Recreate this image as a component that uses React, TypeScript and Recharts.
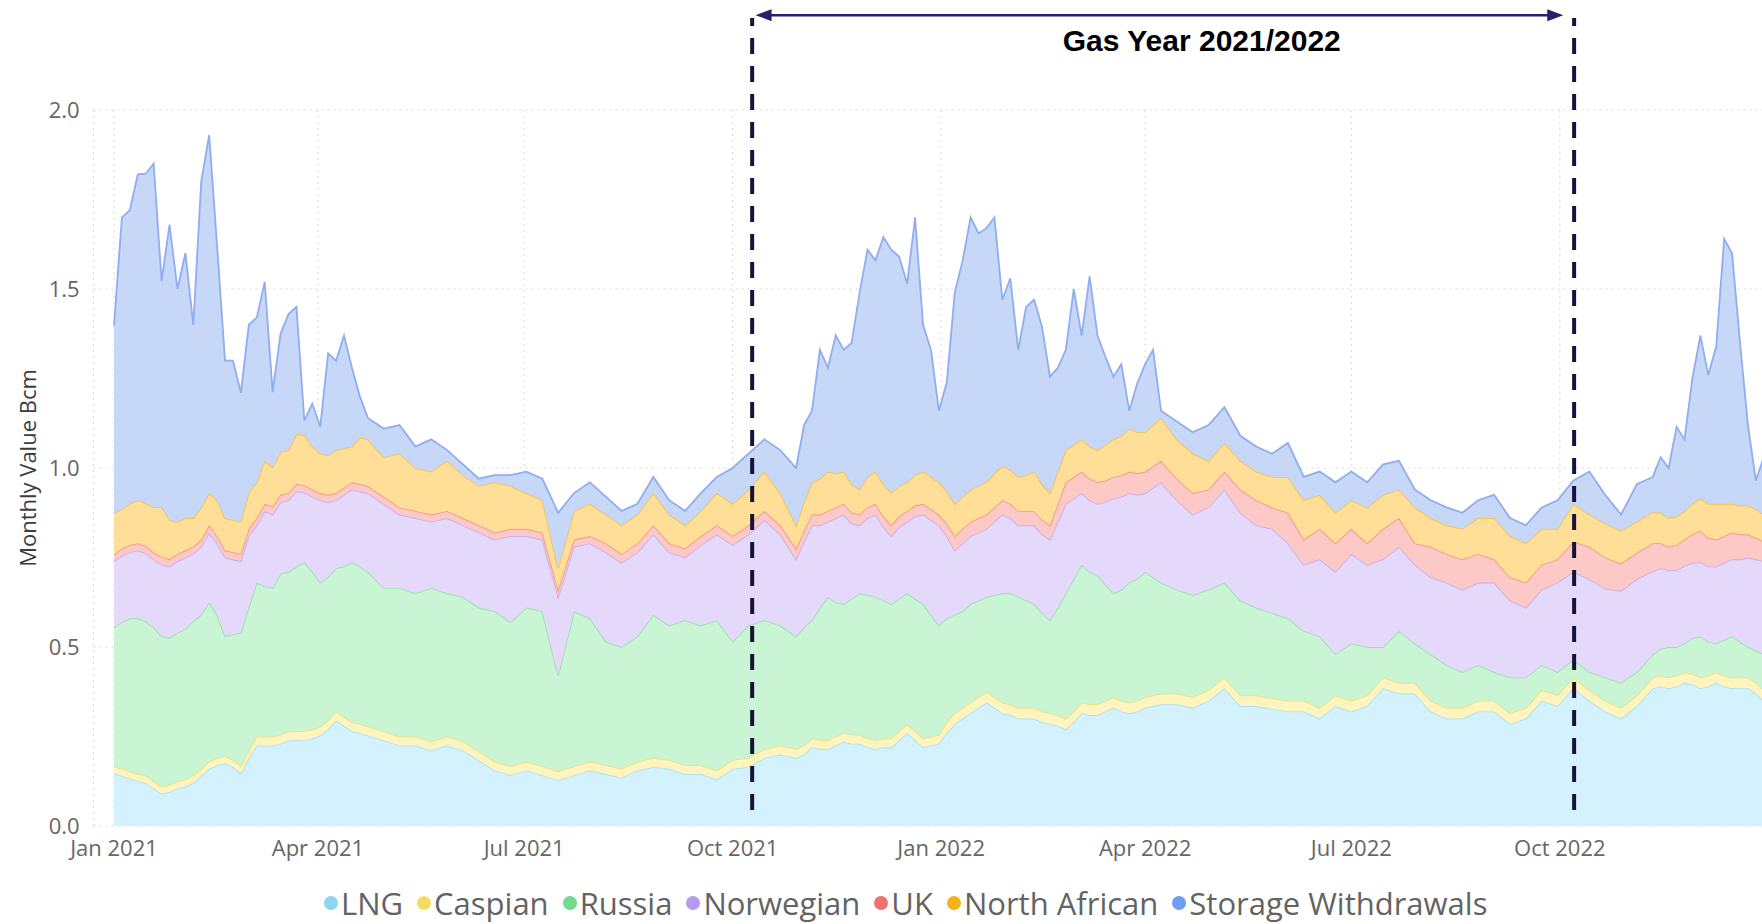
import React from "react"
import {
  AreaChart,
  Area,
  XAxis,
  YAxis,
  CartesianGrid,
  Legend,
  ReferenceLine,
  ReferenceDot,
} from "recharts"

// days since 1 Jan 2021; half-week readings where storage withdrawals are large
const DAYS = [
  // Jan - Apr 2021
  0, 3.5, 7, 10.5, 14, 17.5, 21, 24.5, 28, 31.5, 35, 38.5, 42, 45.5, 49, 52.5, 56, 59.5, 63, 66.5, 70, 73.5, 77, 80.5, 84, 87.5, 91, 94.5, 98, 101.5, 105, 108.5, 112,
  // May - Oct 2021
  119, 126, 133, 140, 147, 154, 161, 168, 175, 182, 189, 196, 203, 210, 217, 224, 231, 238, 245, 252, 259, 266, 273, 280, 287, 294,
  // Oct 2021 - Apr 2022
  301, 304.5, 308, 311.5, 315, 318.5, 322, 325.5, 329, 332.5, 336, 339.5, 343, 346.5, 350, 353.5, 357, 360.5, 364, 367.5,
  371, 374.5, 378, 381.5, 385, 388.5, 392, 395.5, 399, 402.5, 406, 409.5, 413, 416.5, 420, 423.5, 427, 430.5, 434, 437.5,
  441, 444.5, 448, 451.5, 455, 458.5, 462,
  // Apr - Nov 2022
  469, 476, 483, 490, 497, 504, 511, 518, 525, 532, 539, 546, 553, 560, 567, 574, 581, 588, 595, 602, 609, 616, 623, 630, 637, 644, 651, 658, 665, 672, 679,
  // Nov - Dec 2022
  682.5, 686, 689.5, 693, 696.5, 700, 703.5, 707, 710.5, 714, 717.5, 721, 724.5, 728,
]

const LNG = [
  0.147, 0.14, 0.133, 0.125, 0.12, 0.105, 0.09, 0.095, 0.105, 0.11, 0.12, 0.14, 0.16, 0.17, 0.175, 0.165, 0.147, 0.19, 0.225, 0.225, 0.225, 0.23, 0.239, 0.24, 0.239, 0.245, 0.253, 0.27, 0.295, 0.28, 0.265, 0.26, 0.253,
  0.239, 0.225, 0.225, 0.211, 0.225, 0.211, 0.183, 0.155, 0.142, 0.155, 0.142, 0.128, 0.142, 0.155, 0.145, 0.135, 0.155, 0.165, 0.16, 0.145, 0.145, 0.13, 0.16, 0.165, 0.19, 0.2,
  0.19, 0.2, 0.22, 0.215, 0.215, 0.225, 0.235, 0.23, 0.23, 0.22, 0.215, 0.22, 0.22, 0.24, 0.26, 0.24, 0.22, 0.225, 0.23, 0.26,
  0.285, 0.3, 0.315, 0.33, 0.345, 0.33, 0.315, 0.31, 0.3, 0.3, 0.3, 0.29, 0.285, 0.28, 0.27, 0.29, 0.315, 0.31, 0.31, 0.32,
  0.33, 0.32, 0.315, 0.32, 0.33, 0.335, 0.34,
  0.34, 0.33, 0.35, 0.385, 0.335, 0.335, 0.327, 0.32, 0.32, 0.3, 0.335, 0.32, 0.335, 0.385, 0.37, 0.37, 0.32, 0.3, 0.3, 0.32, 0.32, 0.285, 0.3, 0.35, 0.335, 0.385, 0.35, 0.32, 0.3, 0.335, 0.385,
  0.39, 0.385, 0.39, 0.4, 0.395, 0.385, 0.39, 0.4, 0.39, 0.385, 0.385, 0.385, 0.37, 0.35,
]

const CASPIAN = [
  0.02, 0.02, 0.02, 0.02, 0.022, 0.02, 0.02, 0.02, 0.02, 0.02, 0.022, 0.02, 0.02, 0.02, 0.02, 0.02, 0.02, 0.022, 0.025, 0.025, 0.025, 0.025, 0.025, 0.025, 0.027, 0.025, 0.025, 0.025, 0.025, 0.025, 0.025, 0.025, 0.025,
  0.025, 0.025, 0.025, 0.025, 0.025, 0.025, 0.025, 0.025, 0.025, 0.025, 0.025, 0.025, 0.025, 0.025, 0.025, 0.025, 0.025, 0.025, 0.025, 0.025, 0.025, 0.025, 0.025, 0.025, 0.025, 0.025,
  0.025, 0.025, 0.025, 0.025, 0.025, 0.025, 0.025, 0.025, 0.025, 0.025, 0.025, 0.025, 0.025, 0.025, 0.025, 0.025, 0.025, 0.025, 0.025, 0.03,
  0.03, 0.03, 0.03, 0.03, 0.03, 0.03, 0.03, 0.03, 0.03, 0.03, 0.03, 0.03, 0.03, 0.03, 0.03, 0.03, 0.03, 0.03, 0.03, 0.03,
  0.03, 0.03, 0.03, 0.03, 0.03, 0.03, 0.03,
  0.03, 0.03, 0.03, 0.03, 0.03, 0.03, 0.03, 0.03, 0.03, 0.03, 0.03, 0.03, 0.03, 0.03, 0.03, 0.03, 0.03, 0.03, 0.03, 0.03, 0.03, 0.03, 0.03, 0.03, 0.03, 0.03, 0.03, 0.03, 0.03, 0.03, 0.03,
  0.03, 0.03, 0.03, 0.03, 0.03, 0.03, 0.03, 0.03, 0.03, 0.03, 0.03, 0.03, 0.03, 0.03,
]

const RUSSIA = [
  0.388, 0.41, 0.427, 0.435, 0.43, 0.43, 0.42, 0.41, 0.415, 0.42, 0.43, 0.43, 0.445, 0.4, 0.335, 0.35, 0.373, 0.4, 0.43, 0.42, 0.415, 0.45, 0.446, 0.46, 0.471, 0.44, 0.402, 0.4, 0.4, 0.42, 0.445, 0.44, 0.432,
  0.401, 0.415, 0.4, 0.429, 0.4, 0.404, 0.402, 0.42, 0.403, 0.43, 0.433, 0.267, 0.433, 0.4, 0.345, 0.34, 0.35, 0.4, 0.375, 0.405, 0.39, 0.42, 0.33, 0.37, 0.36, 0.335,
  0.315, 0.33, 0.33, 0.37, 0.4, 0.375, 0.36, 0.38, 0.395, 0.4, 0.4, 0.385, 0.375, 0.37, 0.365, 0.37, 0.375, 0.34, 0.305, 0.29,
  0.275, 0.27, 0.275, 0.27, 0.265, 0.285, 0.305, 0.31, 0.31, 0.3, 0.29, 0.275, 0.26, 0.3, 0.35, 0.37, 0.385, 0.37, 0.36, 0.325,
  0.29, 0.31, 0.335, 0.34, 0.35, 0.33, 0.31,
  0.29, 0.285, 0.28, 0.265, 0.265, 0.245, 0.238, 0.23, 0.195, 0.2, 0.115, 0.16, 0.135, 0.085, 0.145, 0.11, 0.13, 0.12, 0.1, 0.1, 0.08, 0.1, 0.085, 0.07, 0.065, 0.05, 0.05, 0.065, 0.07, 0.065, 0.065,
  0.075, 0.085, 0.08, 0.08, 0.1, 0.115, 0.095, 0.08, 0.1, 0.115, 0.1, 0.085, 0.09, 0.1,
]

const NORWEGIAN = [
  0.185, 0.185, 0.185, 0.19, 0.19, 0.19, 0.2, 0.2, 0.2, 0.2, 0.19, 0.19, 0.195, 0.2, 0.22, 0.21, 0.2, 0.2, 0.16, 0.21, 0.205, 0.2, 0.2, 0.21, 0.195, 0.21, 0.23, 0.21, 0.19, 0.2, 0.205, 0.21, 0.22,
  0.235, 0.205, 0.21, 0.185, 0.21, 0.2, 0.21, 0.2, 0.24, 0.2, 0.2, 0.22, 0.18, 0.21, 0.25, 0.235, 0.235, 0.225, 0.205, 0.175, 0.225, 0.24, 0.27, 0.255, 0.28, 0.255,
  0.215, 0.24, 0.265, 0.23, 0.21, 0.235, 0.25, 0.21, 0.19, 0.215, 0.23, 0.205, 0.19, 0.2, 0.2, 0.23, 0.25, 0.265, 0.28, 0.23,
  0.18, 0.19, 0.19, 0.19, 0.19, 0.205, 0.22, 0.21, 0.2, 0.21, 0.22, 0.22, 0.225, 0.24, 0.25, 0.225, 0.2, 0.2, 0.2, 0.23,
  0.265, 0.26, 0.25, 0.235, 0.22, 0.25, 0.28,
  0.25, 0.225, 0.23, 0.26, 0.245, 0.23, 0.235, 0.21, 0.185, 0.215, 0.23, 0.25, 0.23, 0.245, 0.235, 0.22, 0.215, 0.23, 0.23, 0.23, 0.25, 0.215, 0.195, 0.21, 0.25, 0.245, 0.26, 0.248, 0.257, 0.26, 0.232,
  0.225, 0.215, 0.215, 0.217, 0.21, 0.207, 0.21, 0.215, 0.215, 0.215, 0.23, 0.25, 0.255, 0.26,
]

const UK = [
  0.018, 0.02, 0.02, 0.02, 0.02, 0.02, 0.022, 0.02, 0.02, 0.02, 0.018, 0.02, 0.02, 0.02, 0.02, 0.02, 0.02, 0.02, 0.02, 0.02, 0.022, 0.02, 0.02, 0.02, 0.02, 0.02, 0.02, 0.02, 0.02, 0.02, 0.02, 0.02, 0.02,
  0.02, 0.02, 0.02, 0.02, 0.02, 0.02, 0.02, 0.02, 0.02, 0.02, 0.02, 0.02, 0.02, 0.02, 0.025, 0.025, 0.025, 0.025, 0.025, 0.025, 0.025, 0.025, 0.025, 0.025, 0.025, 0.025,
  0.03, 0.03, 0.03, 0.03, 0.03, 0.03, 0.03, 0.03, 0.03, 0.03, 0.03, 0.03, 0.03, 0.03, 0.03, 0.03, 0.03, 0.03, 0.03, 0.035,
  0.04, 0.04, 0.04, 0.04, 0.04, 0.04, 0.04, 0.04, 0.04, 0.04, 0.04, 0.04, 0.04, 0.05, 0.06, 0.06, 0.06, 0.06, 0.06, 0.06,
  0.06, 0.06, 0.06, 0.06, 0.06, 0.06, 0.06,
  0.06, 0.06, 0.05, 0.05, 0.065, 0.07, 0.06, 0.085, 0.07, 0.085, 0.08, 0.07, 0.06, 0.085, 0.08, 0.06, 0.085, 0.08, 0.085, 0.08, 0.065, 0.065, 0.07, 0.07, 0.065, 0.085, 0.09, 0.087, 0.076, 0.073, 0.078,
  0.07, 0.065, 0.07, 0.073, 0.08, 0.088, 0.08, 0.075, 0.075, 0.075, 0.07, 0.065, 0.06, 0.055,
]

const NORTH_AFRICAN = [
  0.115, 0.11, 0.115, 0.12, 0.12, 0.125, 0.14, 0.11, 0.09, 0.09, 0.08, 0.09, 0.09, 0.1, 0.09, 0.09, 0.09, 0.1, 0.1, 0.12, 0.11, 0.12, 0.12, 0.14, 0.14, 0.12, 0.11, 0.11, 0.12, 0.11, 0.1, 0.13, 0.13,
  0.11, 0.15, 0.12, 0.12, 0.14, 0.12, 0.11, 0.14, 0.12, 0.1, 0.09, 0.06, 0.08, 0.09, 0.08, 0.08, 0.08, 0.09, 0.08, 0.065, 0.07, 0.09, 0.09, 0.1, 0.11, 0.09,
  0.065, 0.08, 0.09, 0.1, 0.11, 0.095, 0.09, 0.08, 0.07, 0.085, 0.09, 0.09, 0.09, 0.085, 0.08, 0.085, 0.09, 0.09, 0.09, 0.09,
  0.09, 0.09, 0.09, 0.09, 0.09, 0.095, 0.095, 0.095, 0.095, 0.1, 0.11, 0.1, 0.09, 0.09, 0.09, 0.09, 0.09, 0.09, 0.09, 0.1,
  0.105, 0.11, 0.12, 0.115, 0.11, 0.115, 0.12,
  0.11, 0.11, 0.08, 0.08, 0.08, 0.08, 0.085, 0.1, 0.11, 0.095, 0.085, 0.08, 0.1, 0.095, 0.08, 0.1, 0.08, 0.08, 0.085, 0.1, 0.115, 0.115, 0.11, 0.1, 0.085, 0.105, 0.09, 0.095, 0.092, 0.087, 0.087,
  0.085, 0.08, 0.08, 0.08, 0.085, 0.09, 0.095, 0.1, 0.09, 0.08, 0.08, 0.08, 0.08, 0.075,
]

const STORAGE = [
  0.525, 0.815, 0.82, 0.91, 0.92, 0.96, 0.63, 0.825, 0.65, 0.74, 0.54, 0.91, 1.0, 0.71, 0.44, 0.445, 0.36, 0.468, 0.46, 0.5, 0.21, 0.33, 0.38, 0.355, 0.04, 0.12, 0.075, 0.285, 0.25, 0.315, 0.22, 0.115, 0.06,
  0.08, 0.08, 0.06, 0.09, 0.03, 0.03, 0.02, 0.02, 0.03, 0.06, 0.06, 0.155, 0.05, 0.06, 0.05, 0.04, 0.03, 0.045, 0.04, 0.04, 0.05, 0.045, 0.1, 0.1, 0.09, 0.12,
  0.16, 0.215, 0.2, 0.36, 0.29, 0.385, 0.34, 0.395, 0.55, 0.635, 0.59, 0.69, 0.68, 0.64, 0.555, 0.72, 0.41, 0.355, 0.2, 0.305,
  0.59, 0.66, 0.76, 0.705, 0.71, 0.715, 0.465, 0.535, 0.355, 0.47, 0.48, 0.44, 0.325, 0.29, 0.28, 0.435, 0.29, 0.475, 0.32, 0.245,
  0.175, 0.2, 0.05, 0.136, 0.19, 0.21, 0.02,
  0.05, 0.06, 0.1, 0.1, 0.07, 0.07, 0.065, 0.095, 0.065, 0.065, 0.085, 0.08, 0.07, 0.085, 0.08, 0.05, 0.05, 0.05, 0.045, 0.05, 0.065, 0.05, 0.05, 0.06, 0.08, 0.065, 0.12, 0.08, 0.045, 0.105, 0.098,
  0.155, 0.14, 0.25, 0.2, 0.35, 0.455, 0.36, 0.44, 0.74, 0.7, 0.455, 0.225, 0.08, 0.16,
]

const TICK_DAYS = [0, 90, 181, 273, 365, 455, 546, 638]
const TICK_LABELS = ["Jan 2021", "Apr 2021", "Jul 2021", "Oct 2021", "Jan 2022", "Apr 2022", "Jul 2022", "Oct 2022"]
const Y_TICKS = [0, 0.5, 1, 1.5, 2]

// gas year markers (days since 1 Jan 2021)
const GAS_YEAR_START = 281.6
const GAS_YEAR_END = 644.3

const SERIES = [
  { key: "lng", name: "LNG", values: LNG, fill: "#d4f2fd", stroke: "#a7e1f6", dot: "#8dd5f3" },
  { key: "caspian", name: "Caspian", values: CASPIAN, fill: "#fdf4bf", stroke: "#f2e07a", dot: "#f5da63" },
  { key: "russia", name: "Russia", values: RUSSIA, fill: "#c9f5d4", stroke: "#98e2aa", dot: "#72d98f" },
  { key: "norwegian", name: "Norwegian", values: NORWEGIAN, fill: "#e4d8fb", stroke: "#c6aff3", dot: "#b39cf0" },
  { key: "uk", name: "UK", values: UK, fill: "#fcc9c6", stroke: "#f29595", dot: "#ef7272" },
  { key: "northAfrican", name: "North African", values: NORTH_AFRICAN, fill: "#ffdf97", stroke: "#f5c24f", dot: "#f4b31d" },
  { key: "storage", name: "Storage Withdrawals", values: STORAGE, fill: "#c7d7f8", stroke: "#8fadef", dot: "#6e9ef0" },
]

const rows = DAYS.map((day, i) => {
  const row: Record<string, number> = { day }
  SERIES.forEach((s) => {
    row[s.key] = s.values[i]
  })
  return row
})

const FONT = "'Open Sans', 'Noto Sans', sans-serif"

function LegendRow() {
  return (
    <div
      style={{
        height: 42,
        lineHeight: "42px",
        display: "flex",
        alignItems: "center",
        paddingLeft: 324,
        fontFamily: FONT,
        fontSize: 31,
        color: "#636363",
        whiteSpace: "nowrap",
      }}
    >
      {SERIES.map((s) => (
        <span key={s.key} style={{ display: "flex", alignItems: "center", marginRight: 14 }}>
          <span
            style={{
              width: 14,
              height: 14,
              borderRadius: 7,
              background: s.dot,
              marginRight: 3,
              display: "inline-block",
            }}
          />
          {s.name}
        </span>
      ))}
    </div>
  )
}

function DashedMarker(p: any) {
  return (
    <line
      x1={p.x1}
      y1={p.y1}
      x2={p.x2}
      y2={p.y2}
      stroke="#16123a"
      strokeWidth={4}
      strokeDasharray="16 12"
    />
  )
}

function DoubleArrow(p: any) {
  const c = "#2d1b6c"
  const { x1, y1, x2, y2 } = p
  return (
    <g>
      <line x1={x1 + 6} y1={y1} x2={x2 - 6} y2={y2} stroke={c} strokeWidth={2.5} />
      <polygon points={`${x1},${y1} ${x1 + 16},${y1 - 6} ${x1 + 16},${y1 + 6}`} fill={c} />
      <polygon points={`${x2},${y2} ${x2 - 16},${y2 - 6} ${x2 - 16},${y2 + 6}`} fill={c} />
    </g>
  )
}

function GasYearText(p: any) {
  return (
    <text
      x={p.cx}
      y={p.cy}
      textAnchor="middle"
      fontFamily="'Liberation Sans', Arial, sans-serif"
      fontWeight={700}
      fontSize={30}
      fill="#000"
    >
      Gas Year 2021/2022
    </text>
  )
}

export default function App() {
  return (
    <div
      style={{
        position: "fixed",
        left: 0,
        top: 0,
        width: 1762,
        height: 924,
        overflow: "hidden",
        background: "#fff",
      }}
    >
      <AreaChart
        width={1791}
        height={924}
        data={rows}
        margin={{ top: 110, right: 0, bottom: 0, left: 0 }}
      >
        <CartesianGrid stroke="#d9d9d9" strokeDasharray="2 4" />
        <XAxis
          dataKey="day"
          type="number"
          domain={[-9, 740]}
          ticks={TICK_DAYS}
          interval={0}
          tickFormatter={(v: number) => TICK_LABELS[TICK_DAYS.indexOf(v)]}
          axisLine={false}
          tickLine={false}
          tickSize={6}
          tickMargin={8}
          height={56}
          tick={{ fill: "#666", fontSize: 22, fontFamily: FONT }}
        />
        <YAxis
          type="number"
          domain={[0, 2]}
          ticks={Y_TICKS}
          tickFormatter={(v: number) => v.toFixed(1)}
          width={93.6}
          axisLine={false}
          tickLine={false}
          tickSize={6}
          tickMargin={8}
          tick={{ fill: "#666", fontSize: 22, fontFamily: FONT }}
          label={({ viewBox }: any) => {
            const x = viewBox.x + 27
            const y = viewBox.y + viewBox.height / 2
            return (
              <text
                x={x}
                y={y}
                transform={`rotate(-90, ${x}, ${y})`}
                textAnchor="middle"
                dominantBaseline="central"
                fontFamily={FONT}
                fontSize={22}
                fill="#3c3c3c"
              >
                Monthly Value Bcm
              </text>
            )
          }}
        />
        <Legend verticalAlign="bottom" content={() => <LegendRow />} />
        {SERIES.map((s) => (
          <Area
            key={s.key}
            type="linear"
            dataKey={s.key}
            name={s.name}
            stackId="supply"
            stroke={s.stroke}
            strokeWidth={1.8}
            fill={s.fill}
            fillOpacity={1}
            dot={false}
            activeDot={false}
            isAnimationActive={false}
          />
        ))}
        <ReferenceLine
          segment={[
            { x: GAS_YEAR_START, y: 0.045 },
            { x: GAS_YEAR_START, y: 2.257 },
          ]}
          ifOverflow="visible"
          shape={DashedMarker}
        />
        <ReferenceLine
          segment={[
            { x: GAS_YEAR_END, y: 0.045 },
            { x: GAS_YEAR_END, y: 2.257 },
          ]}
          ifOverflow="visible"
          shape={DashedMarker}
        />
        <ReferenceLine
          segment={[
            { x: GAS_YEAR_START + 1.5, y: 2.265 },
            { x: GAS_YEAR_END - 4.8, y: 2.265 },
          ]}
          ifOverflow="visible"
          shape={DoubleArrow}
        />
        <ReferenceDot x={480} y={2.165} r={0} ifOverflow="visible" shape={GasYearText} />
      </AreaChart>
    </div>
  )
}
